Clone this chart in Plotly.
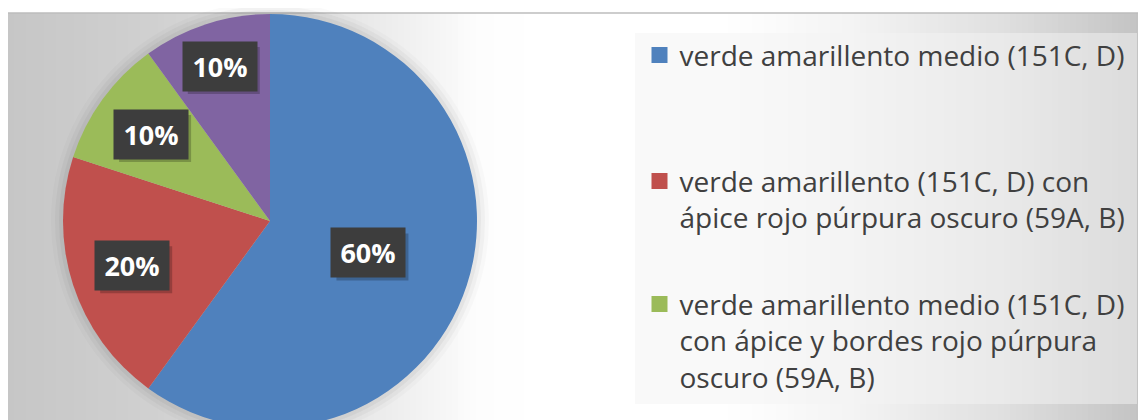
import numpy as np
import plotly.graph_objects as go

# ---------------- data ----------------
categories = [
    "verde amarillento medio (151C, D)",
    "verde amarillento (151C, D) con ápice rojo púrpura oscuro (59A, B)",
    "verde amarillento medio (151C, D) con ápice y bordes rojo púrpura oscuro (59A, B)",
    "otros",
]
values = [60, 20, 10, 10]
colors = ["#4F81BD", "#C0504D", "#9BBB59", "#8064A2"]
legend_text = [
    "verde amarillento medio (151C, D)",
    "verde amarillento (151C, D) con<br>ápice rojo púrpura oscuro (59A, B)",
    "verde amarillento medio (151C, D)<br>con ápice y bordes rojo púrpura<br>oscuro (59A, B)",
]

# ---------------- layout constants (screen pixels) ----------------
W, H = 1146, 420
OFF = 8                               # page body margin offset
CX, CY, R = 270, 221, 207             # pie centre / radius
label_r = [0.50, 0.70, 0.71, 0.785]   # radial position of data labels
legend_tops = [30.4, 156.4, 279.4]
FONT = "Open Sans"
LEG_SIZE = 28


def px_x(x):
    return (x - OFF) / W


def px_y(y):
    return 1 - (y - OFF) / H


fig = go.Figure()

fig.add_trace(go.Pie(
    labels=categories,
    values=values,
    sort=False,
    direction="clockwise",
    rotation=0,
    marker=dict(colors=colors, line=dict(width=0)),
    textinfo="none",
    showlegend=False,
    hoverinfo="label+percent",
    domain=dict(x=[px_x(CX - R), px_x(CX + R)],
                y=[max(0, px_y(CY + R)), px_y(CY - R)]),
))

# legend entries (one legend per entry so spacing can follow the reference)
legend_ids = ["legend", "legend2", "legend3"]
for i, txt in enumerate(legend_text):
    fig.add_trace(go.Scatter(
        x=[None], y=[None], mode="markers",
        marker=dict(symbol="square", size=16, color=colors[i]),
        name=txt, legend=legend_ids[i], hoverinfo="skip",
    ))

legend_common = dict(
    x=px_x(639.5), xanchor="left", yanchor="top",
    bgcolor="rgba(0,0,0,0)", borderwidth=0, valign="top",
    font=dict(family=FONT, size=LEG_SIZE, color="#404040"),
)
layout_legends = {}
for i, lid in enumerate(legend_ids):
    layout_legends[lid] = dict(legend_common, y=px_y(legend_tops[i]))

shapes = []
# background gradient
stops_x = [7, 150, 300, 420, 480, 540, 720, 850, 1000, 1146]
stops_g = [198, 208, 222, 242, 253, 255, 255, 244, 224, 194]
step = 6
for x0 in range(OFF, W + OFF, step):
    g = int(round(np.interp(x0 + step / 2, stops_x, stops_g)))
    shapes.append(dict(
        type="rect", xref="paper", yref="paper", layer="below",
        x0=px_x(x0), x1=px_x(x0 + step + 1), y0=0, y1=px_y(13),
        fillcolor=f"rgb({g},{g},{g})", line=dict(width=0),
    ))
# top border line
shapes.append(dict(type="line", xref="paper", yref="paper", layer="below",
                   x0=0, x1=1, y0=px_y(13), y1=px_y(13),
                   line=dict(color="#bdbdbd", width=1.5)))
# soft halo behind the pie
for dr, a in [(12, 0.02), (8, 0.03), (4, 0.04)]:
    shapes.append(dict(type="circle", xref="paper", yref="paper", layer="below",
                       x0=px_x(CX - R - dr), x1=px_x(CX + R + dr),
                       y0=px_y(CY + R + dr), y1=px_y(CY - R - dr),
                       fillcolor=f"rgba(0,0,0,{a})", line=dict(width=0)))
# legend background panel
shapes.append(dict(type="rect", xref="paper", yref="paper", layer="below",
                   x0=px_x(635), x1=px_x(1137), y0=px_y(404), y1=px_y(33),
                   fillcolor="rgba(243,243,243,0.5)", line=dict(width=0)))

# data labels
total = float(sum(values))
cum = np.cumsum(values)
starts = cum - np.array(values)
annotations = []
BW, BH = 72, 47
for i, v in enumerate(values):
    mid = np.deg2rad((starts[i] + v / 2) / total * 360)
    lx = CX + label_r[i] * R * np.sin(mid)
    ly = CY - label_r[i] * R * np.cos(mid)
    # shadow
    shapes.append(dict(type="rect", xref="paper", yref="paper", layer="above",
                       x0=px_x(lx - BW / 2 + 4), x1=px_x(lx + BW / 2 + 4),
                       y0=px_y(ly + BH / 2 + 4), y1=px_y(ly - BH / 2 + 4),
                       fillcolor="rgba(0,0,0,0.22)", line=dict(width=0)))
    annotations.append(dict(
        x=px_x(lx), y=px_y(ly), xref="paper", yref="paper",
        text=f"<b>{round(v / total * 100)}%</b>", showarrow=False,
        font=dict(family=FONT, size=27, color="white"),
        bgcolor="#3d3d3d", width=BW, height=BH, align="center", valign="middle",
        xanchor="center", yanchor="middle",
    ))

fig.update_layout(
    width=W, height=H,
    margin=dict(l=0, r=0, t=0, b=0),
    paper_bgcolor="white",
    plot_bgcolor="rgba(0,0,0,0)",
    xaxis=dict(visible=False),
    yaxis=dict(visible=False),
    shapes=shapes,
    annotations=annotations,
    **layout_legends,
)

fig.write_html("out.html")
